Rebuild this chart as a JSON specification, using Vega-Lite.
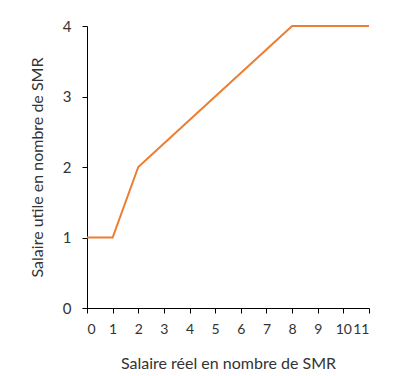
{
  "$schema": "https://vega.github.io/schema/vega-lite/v6.json",
  "width": 282,
  "height": 282,
  "autosize": "none",
  "padding": {"left": 87, "top": 26, "right": 34, "bottom": 68},
  "data": {"values": [
    {"x": 0, "y": 1}, {"x": 1, "y": 1}, {"x": 2, "y": 2}, {"x": 3, "y": 2.3333}, {"x": 4, "y": 2.6667},
    {"x": 5, "y": 3}, {"x": 6, "y": 3.3333}, {"x": 7, "y": 3.6667}, {"x": 8, "y": 4}, {"x": 9, "y": 4},
    {"x": 10, "y": 4}, {"x": 11, "y": 4}
  ]},
  "config": {
    "view": {"stroke": null},
    "font": "Lato",
    "axis": {
      "grid": false, "domainColor": "#000", "tickColor": "#000", "tickSize": 5,
      "labelFontSize": 15, "labelColor": "#333", "titleFontSize": 16, "titleColor": "#333",
      "titleFontWeight": "normal", "labelFont": "Lato", "titleFont": "Lato", "labelOverlap": false
    }
  },
  "mark": {"type": "line", "color": "#ED7D31", "strokeWidth": 2},
  "encoding": {
    "x": {"field": "x", "type": "quantitative", "scale": {"domain": [0, 11], "nice": false},
      "axis": {"values": [0,1,2,3,4,5,6,7,8,9,10,11], "title": "Salaire réel en nombre de SMR", "labelFontSize": 14, "labelPadding": 9, "titlePadding": 19, "labelOverlap": false}},
    "y": {"field": "y", "type": "quantitative", "scale": {"domain": [0, 4], "nice": false},
      "axis": {"values": [0,1,2,3,4], "title": "Salaire utile en nombre de SMR", "labelPadding": 11, "titlePadding": 17}}
  }
}
